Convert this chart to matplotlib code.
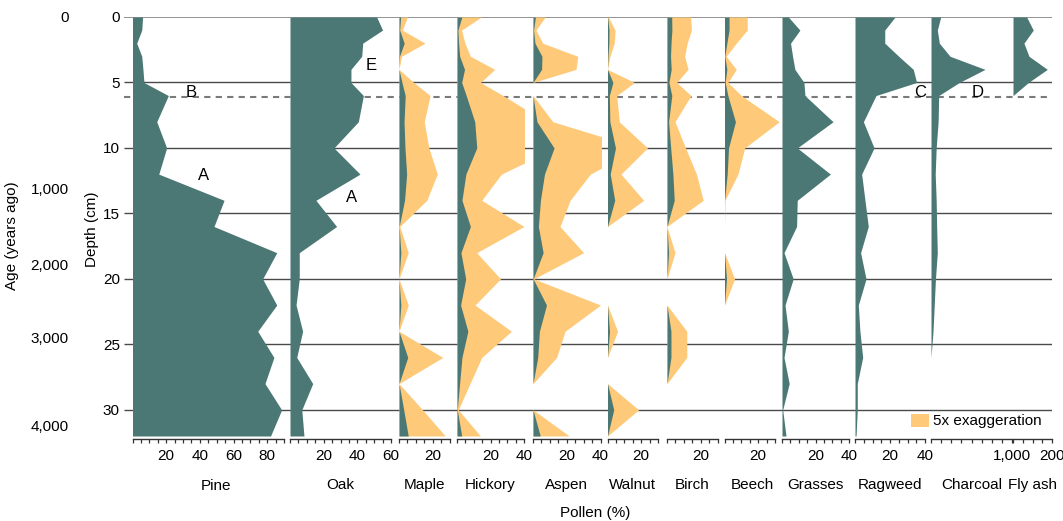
import numpy as np
import matplotlib.pyplot as plt
from matplotlib.patches import Rectangle

plt.rcParams['font.family'] = ['Liberation Sans', 'DejaVu Sans']
plt.rcParams['font.size'] = 11

# --- Data: sample depths (cm) and values per taxon ---
DEPTH = [0, 1, 2, 3, 4, 5, 6, 8, 10, 12, 14, 16, 18, 20, 22, 24, 26, 28, 30, 32]

pine = [6.0, 5.5, 2.5, 5.5, 6.2, 6.8, 21.3, 14.4, 20.3, 15.6, 54.4, 48.4, 85.7, 77.3, 85.7, 74.4, 84.0, 78.7, 88.6, 82.0]
oak = [51.5, 55.0, 43.2, 42.6, 36.2, 36.2, 43.6, 40.6, 26.1, 41.6, 15.4, 27.7, 5.5, 5.5, 3.6, 7.5, 4.0, 13.5, 7.0, 8.3]
maple = [1.0, 0.4, 3.1, 0.3, 0.0, 1.75, 3.7, 3.0, 3.55, 4.55, 3.3, 0.1, 1.1, 0.0, 1.1, 0.0, 5.2, 0.0, 2.8, 5.5]
hickory = [2.9, 0.55, 0.95, 1.6, 4.5, 2.8, 5.5, 10.6, 11.8, 5.3, 2.95, 8.0, 2.35, 5.2, 2.15, 6.5, 2.95, 1.55, 0.15, 2.8]
aspen = [1.45, 0.35, 1.15, 5.3, 5.1, 0.0, 0.0, 2.35, 12.5, 6.8, 4.4, 3.2, 6.0, 0.1, 8.0, 3.8, 2.8, 0.0, 0.0, 4.3]
walnut = [0.1, 0.9, 0.8, 0.3, 0.0, 3.2, 1.1, 1.4, 4.75, 1.6, 4.3, 0.0, 0.0, 0.0, 0.0, 1.2, 0.0, 0.0, 3.7, 0.0]
birch = [2.8, 2.9, 2.4, 2.1, 2.5, 1.15, 2.85, 0.95, 2.2, 3.5, 4.3, 0.0, 0.95, 0.0, 0.0, 2.35, 2.35, 0.0, 0.0, 0.0]
beech = [2.7, 2.7, 1.4, 0.2, 1.4, 0.4, 2.0, 6.5, 2.4, 1.6, 0.05, 0.0, 0.0, 1.2, 0.0, 0.0, 0.0, 0.0, 0.0, 0.0]
grasses = [3.8, 10.7, 5.1, 6.3, 7.7, 13.1, 13.7, 30.5, 9.1, 28.9, 9.1, 8.7, 1.2, 6.7, 1.8, 3.8, 1.2, 4.3, 0.4, 2.4]
ragweed = [22.9, 17.0, 17.0, 25.0, 33.3, 35.2, 12.0, 4.8, 10.9, 3.8, 5.7, 7.6, 3.2, 6.3, 1.9, 2.8, 4.4, 1.3, 1.3, 0.6]
charcoal = [120, 78, 103, 235, 667, 350, 95, 88, 64, 52, 64, 70, 78, 55, 40, 25, 0, 0, 0, 0]
fly_ash = [70, 104, 56, 82, 176, 79, 0, 0, 0, 0, 0, 0, 0, 0, 0, 0, 0, 0, 0, 0]

AGE_LABELS = ['0', '1,000', '2,000', '3,000', '4,000']
AGE_DEPTHS = [0, 13.1, 18.9, 24.5, 31.2]

ZONE_DEPTH = 6.1
EXAGGERATION = 5

TEAL = '#4b7874'
ORANGE = '#fec979'

# name, values, left px, right px, axis max, plot max, major ticks, minor step, exaggerated
panels = [
    ('Pine', pine, 132.5, 284, 90, 90, [20, 40, 60, 80], 5, False),
    ('Oak', oak, 290, 391, 60, 60, [20, 40, 60], 5, False),
    ('Maple', maple, 399, 449.5, 30, 30, [20], 5, True),
    ('Hickory', hickory, 457, 524, 40, 40, [20, 40], 5, True),
    ('Aspen', aspen, 533, 600.5, 40, 40, [20, 40], 5, True),
    ('Walnut', walnut, 607.5, 658, 30, 30, [20], 5, True),
    ('Birch', birch, 667, 717.5, 30, 30, [20], 5, True),
    ('Beech', beech, 724.5, 775, 30, 33, [20], 5, True),
    ('Grasses', grasses, 782, 849, 40, 40, [20, 40], 5, False),
    ('Ragweed', ragweed, 855, 925, 40, 40, [20, 40], 5, False),
    ('Charcoal', charcoal, 931, 1012, 1000, 1000, [1000], 125, False),
    ('Fly ash', fly_ash, 1013, 1052, 200, 200, [200], 50, False),
]

W, H = 1063, 521
TOP, BOTTOM = 17, 439
Y_MAX = 32.23

fig = plt.figure(figsize=(W / 100, H / 100), dpi=100)


def box(x0, x1):
    return [x0 / W, 1 - BOTTOM / H, (x1 - x0) / W, (BOTTOM - TOP) / H]


# background: depth gridlines, zone boundary and depth axis labels
ax_bg = fig.add_axes(box(124, 1052))
ax_bg.set_xlim(0, 1)
ax_bg.set_ylim(Y_MAX, 0)
ax_bg.hlines(0, 0, 1, color='#8a8a8a', lw=1.3)
ax_bg.hlines([5, 10, 15, 20, 25, 30], 0, 1, color='#4a4a4a', lw=1.0)
ax_bg.hlines(ZONE_DEPTH, 0, 1, color='#7a7a7a', lw=1.5, linestyles=(0, (3, 2.5)))
ax_bg.set_yticks([0, 5, 10, 15, 20, 25, 30])
ax_bg.tick_params(axis='y', length=0, pad=3, labelsize=11)
ax_bg.set_xticks([])
for s in ax_bg.spines.values():
    s.set_visible(False)
ax_bg.patch.set_visible(False)

# age scale
ax_age = fig.add_axes(box(73, 100))
ax_age.set_ylim(Y_MAX, 0)
ax_age.set_yticks(AGE_DEPTHS)
ax_age.set_yticklabels(AGE_LABELS)
ax_age.tick_params(axis='y', length=0, pad=3, labelsize=11)
ax_age.set_xticks([])
for s in ax_age.spines.values():
    s.set_visible(False)
ax_age.patch.set_visible(False)

axes = {}
for name, vals, x0, x1, amax, pmax, majors, step, exag in panels:
    right = x0 + (x1 - x0) * pmax / amax
    ax = fig.add_axes(box(x0, right))
    ax.patch.set_visible(False)
    ax.set_xlim(0, pmax)
    ax.set_ylim(Y_MAX, 0)
    v = np.array(vals, dtype=float)
    if exag:
        ax.fill_betweenx(DEPTH, 0, v * EXAGGERATION, color=ORANGE, lw=0)
    ax.fill_betweenx(DEPTH, 0, v, color=TEAL, lw=0)
    for s in ['left', 'right', 'top']:
        ax.spines[s].set_visible(False)
    ax.spines['bottom'].set_bounds(0, amax)
    ax.spines['bottom'].set_color('#333333')
    ax.spines['bottom'].set_linewidth(1.0)
    ax.set_yticks([])
    ax.set_xticks(majors)
    if amax >= 1000:
        ax.set_xticklabels([f'{m:,}' for m in majors])
    ax.set_xticks(np.arange(0, amax + step / 2, step), minor=True)
    ax.tick_params(axis='x', which='both', direction='out', length=3.2,
                   width=0.9, color='#333333', labelsize=11, pad=4)
    ax.set_xlabel(name, fontsize=11, labelpad=11)
    axes[name] = ax

axes['Pine'].xaxis.set_label_coords(0.55, -0.095)

# zone letters
axes['Pine'].text(35, 5.75, 'B', ha='center', va='center', fontsize=12)
axes['Pine'].text(42, 12.1, 'A', ha='center', va='center', fontsize=12)
axes['Oak'].text(48, 3.7, 'E', ha='center', va='center', fontsize=12)
axes['Oak'].text(36.5, 13.8, 'A', ha='center', va='center', fontsize=12)
axes['Ragweed'].text(37, 5.75, 'C', ha='center', va='center', fontsize=12, clip_on=False)
axes['Charcoal'].text(570, 5.75, 'D', ha='center', va='center', fontsize=12)

# legend for the exaggerated curves
fig.add_artist(Rectangle((911 / W, 1 - 427 / H), 18 / W, 13 / H,
                         transform=fig.transFigure, color=ORANGE, lw=0))
fig.text(933 / W, 1 - 421 / H, f'{EXAGGERATION}x exaggeration', ha='left', va='center', fontsize=11)

fig.text(12 / W, 1 - 236 / H, 'Age (years ago)', rotation=90, ha='center', va='center', fontsize=11)
fig.text(92 / W, 1 - 229 / H, 'Depth (cm)', rotation=90, ha='center', va='center', fontsize=11)
fig.text(595 / W, 1 - 513 / H, 'Pollen (%)', ha='center', va='center', fontsize=11)

fig.savefig('out.png', dpi=100)
plt.close(fig)
